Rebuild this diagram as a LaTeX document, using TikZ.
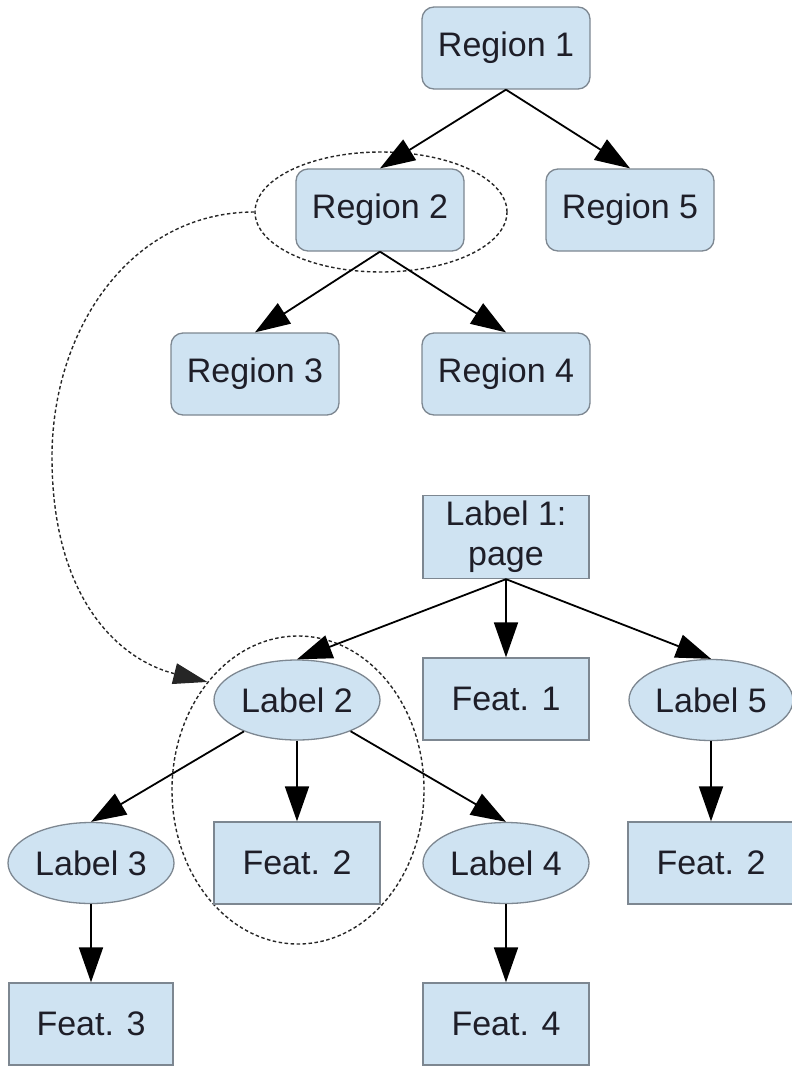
\documentclass[tikz,border=0pt]{standalone}
\usepackage{fontspec}
\setmainfont{Liberation Sans}
\usetikzlibrary{shapes.geometric,arrows.meta}
\definecolor{nodefill}{RGB}{207,227,242}
\definecolor{nodeline}{RGB}{125,135,145}
\definecolor{txt}{RGB}{30,30,40}
\begin{document}
\begin{tikzpicture}[x=1pt,y=-1pt,
  base/.style={draw=nodeline, fill=nodefill, line width=1.3pt, text=txt, font=\fontsize{34}{40}\selectfont, inner sep=0pt, align=center},
  region/.style={base, rectangle, rounded corners=12pt, minimum width=168pt, minimum height=82pt},
  boxnode/.style={base, rectangle, minimum width=166pt, minimum height=82pt},
  ellnode/.style={base, ellipse, minimum width=166pt, minimum height=81pt},
  conn/.style={line width=1.8pt, -{Triangle[length=35pt,width=24pt]}},
  group/.style={draw=black!85, ellipse, dash pattern=on 3.5pt off 2.5pt, line width=1.4pt, inner sep=0pt},
]
\useasboundingbox (0,0) rectangle (792,1066);

% groups (dashed ellipses)
\node[group, minimum width=252pt, minimum height=120pt] (g1) at (381,212) {};
\node[group, minimum width=252pt, minimum height=308pt] (g2) at (298,790) {};

% region tree
\node[region] (r1) at (506,48) {Region 1};
\node[region] (r2) at (380,210) {Region 2};
\node[region] (r5) at (630,210) {Region 5};
\node[region] (r3) at (255,374) {Region 3};
\node[region] (r4) at (506,374) {Region 4};

\draw[conn] (r1.south) -- (r2.north);
\draw[conn] (r1.south) -- (r5.north);
\draw[conn] (r2.south) -- (r3.north);
\draw[conn] (r2.south) -- (r4.north);

% label tree
\node[boxnode, minimum height=83pt] (l1) at (506,537) {Label 1:\\page};
\node[boxnode] (f1) at (506,699) {Feat. 1};
\node[ellnode, minimum height=80pt] (l2) at (297,700) {Label 2};
\node[ellnode, minimum width=164pt] (l5) at (711,700) {Label 5};
\node[ellnode] (l3) at (91,863) {Label 3};
\node[boxnode] (f2) at (297,863) {Feat. 2};
\node[ellnode] (l4) at (506,863) {Label 4};
\node[boxnode] (f2b) at (711,863) {Feat. 2};
\node[boxnode, minimum width=164pt] (f3) at (91,1024) {Feat. 3};
\node[boxnode] (f4) at (506,1024) {Feat. 4};

\draw[conn] (l1.south) -- (l2.north);
\draw[conn] (l1.south) -- (f1.north);
\draw[conn] (l1.south) -- (l5.north);
\draw[conn] (l2) -- (l3.north);
\draw[conn] (l2.south) -- (f2.north);
\draw[conn] (l2) -- (l4.north);
\draw[conn] (l5.south) -- (f2b.north);
\draw[conn] (l3.south) -- (f3.north);
\draw[conn] (l4.south) -- (f4.north);

% correspondence link
\draw[black!85, dash pattern=on 3.5pt off 2.5pt, line width=1.4pt, -{Triangle[length=34pt,width=21pt]}]
  (g1.west) .. controls (130,212) and (52,330) .. (52,457)
  .. controls (52,600) and (120,660) .. (g2.130);
\end{tikzpicture}
\end{document}
